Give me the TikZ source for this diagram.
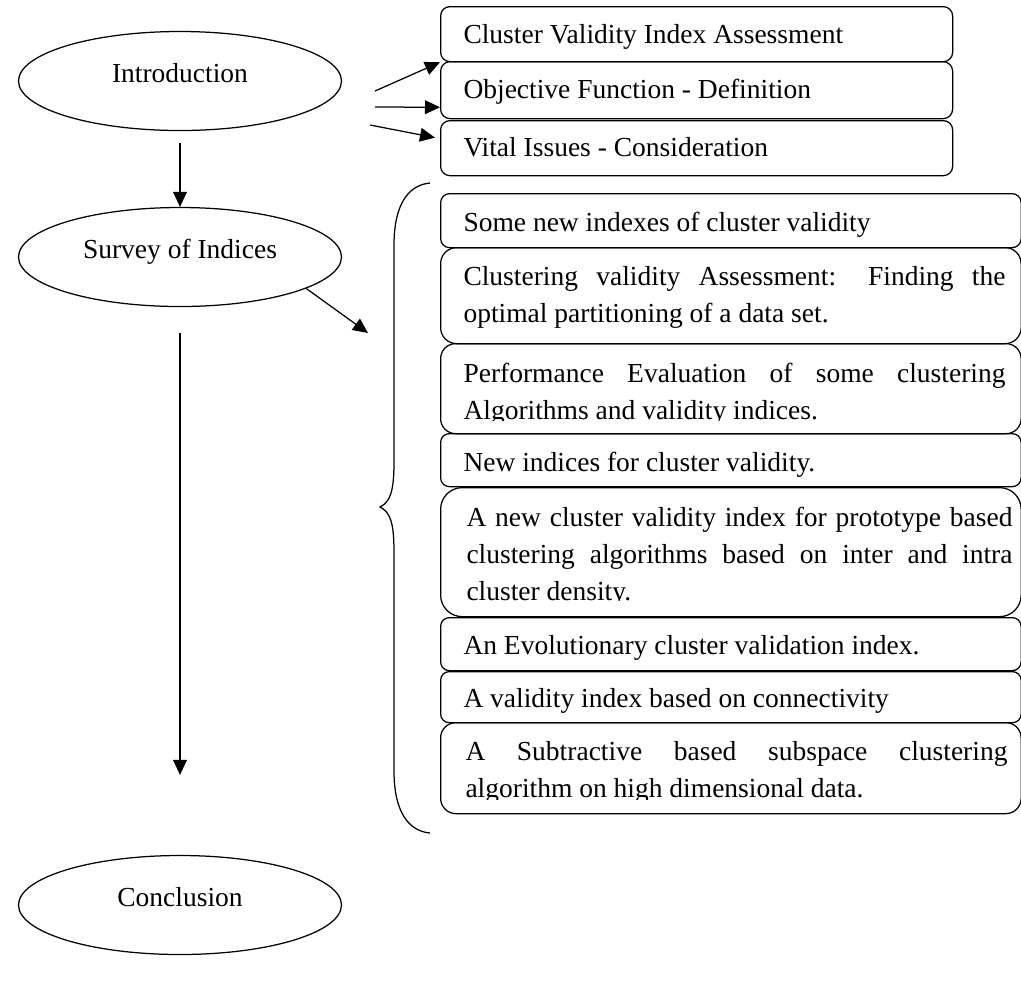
\documentclass[tikz,border=0pt]{standalone}
\usepackage{fontspec}
\setmainfont{Liberation Serif}
\usetikzlibrary{shapes.geometric,arrows.meta}
\tolerance=10000
\hyphenpenalty=10000
\parindent=0pt

\tikzset{
  topic/.style={draw, ellipse, line width=0.5pt, minimum width=129.2pt, minimum height=39.6pt,
    inner sep=0pt, text height=8pt, text depth=7pt},
  entry/.style={draw, rectangle, line width=0.5pt, inner sep=0pt, anchor=north west},
  entrytext/.style={anchor=north west, inner sep=0pt, text width=216.8pt, align=justify},
  link/.style={line width=0.5pt, -{Triangle[length=6pt,width=5.5pt]}}
}

\begin{document}
\begin{tikzpicture}[x=0.4pt, y=-0.4pt, font=\fontsize{11}{14.8}\selectfont]
    \useasboundingbox (0,0) rectangle (1021,983);

    % left column
    \node[topic] (intro) at (180,81) {Introduction};
    \node[topic] (survey) at (180,257) {Survey of Indices};
    \node[topic] (concl) at (180,905) {Conclusion};

    % upper boxes
    \node[entry, minimum width=204.8pt, minimum height=22pt, rounded corners=3.7pt] (cva) at (440,6) {};
    \node[entrytext] (cva text) at (463,17) {\strut Cluster Validity Index Assessment};
    \node[entry, minimum width=204.8pt, minimum height=22.8pt, rounded corners=3.8pt] (ofd) at (440,61) {};
    \node[entrytext] (ofd text) at (463,72) {\strut Objective Function - Definition};
    \node[entry, minimum width=204.8pt, minimum height=22pt, rounded corners=3.7pt] (vic) at (440,120) {};
    \node[entrytext] (vic text) at (463,130) {\strut Vital Issues - Consideration};

    % surveyed papers
    \node[entry, minimum width=232.2pt, minimum height=21.6pt, rounded corners=3.6pt] (p1) at (440,193) {};
    \node[entrytext] (p1 text) at (463,205) {\strut Some new indexes of cluster validity};
    \node[entry, minimum width=232.2pt, minimum height=38.4pt, rounded corners=6.4pt] (p2) at (440,247) {};
    \node[entrytext] (p2 text) at (463,259) {\strut Clustering validity Assessment: Finding the \linebreak optimal partitioning of a data set.};
    \node[entry, minimum width=232.2pt, minimum height=36pt, rounded corners=6pt] (p3) at (440,343) {};
    \begin{scope}
        \clip (440,343) rectangle (1021,420);
        \node[entrytext] (p3 text) at (463,356) {\strut Performance Evaluation of some clustering \linebreak Algorithms and validity indices.};
    \end{scope}
    \node[entry, minimum width=232.2pt, minimum height=21.2pt, rounded corners=3.5pt] (p4) at (440,433) {};
    \node[entrytext] (p4 text) at (463,445) {\strut New indices for cluster validity.};
    \node[entry, minimum width=232.2pt, minimum height=51.6pt, rounded corners=8.6pt] (p5) at (440,487) {};
    \begin{scope}
        \clip (440,487) rectangle (1021,600);
        \node[entrytext, text width=218.4pt] (p5 text) at (466,500) {\strut A new cluster validity index for prototype based \linebreak clustering algorithms based on inter and intra \linebreak cluster density.};
    \end{scope}
    \node[entry, minimum width=232.2pt, minimum height=21.2pt, rounded corners=3.5pt] (p6) at (440,617) {};
    \node[entrytext] (p6 text) at (463,628) {\strut An Evolutionary cluster validation index.};
    \node[entry, minimum width=232.2pt, minimum height=20.4pt, rounded corners=3.4pt] (p7) at (440,671) {};
    \node[entrytext] (p7 text) at (463,681) {\strut A validity index based on connectivity};
    \node[entry, minimum width=232.2pt, minimum height=36.4pt, rounded corners=6.1pt] (p8) at (440,722) {};
    \begin{scope}
        \clip (440,722) rectangle (1021,799);
        \node[entrytext] (p8 text) at (465,734) {\strut A Subtractive based subspace clustering \linebreak algorithm on high dimensional data.};
    \end{scope}

    % brace round the papers
    \draw[line width=0.5pt] (430,183) .. controls (408,185) and (394,205) .. (394,245)
        -- (394,462) .. controls (394,492) and (390,502) .. (380,507)
        .. controls (390,512) and (394,522) .. (394,552)
        -- (394,771) .. controls (394,811) and (408,831) .. (430,833);

    % free ends of the arrows
    \coordinate (from1) at (375,91);
    \coordinate (from2) at (375,107);
    \coordinate (from3) at (370,125);
    \coordinate (pointer) at (368,333);

    \draw[link] (from1) -- (cva.south west);
    \draw[link] (from2) -- ([yshift=4.8pt]ofd.south west);
    \draw[link] (from3) -- ([xshift=-2pt,yshift=4.2pt]vic.west);
    \draw[link, shorten <=4.8pt] (intro) -- (survey);
    \draw[link] (survey.-14) -- (pointer);
    \draw[link, shorten <=10.4pt, shorten >=32pt] (survey) -- (concl);
\end{tikzpicture}
\end{document}
